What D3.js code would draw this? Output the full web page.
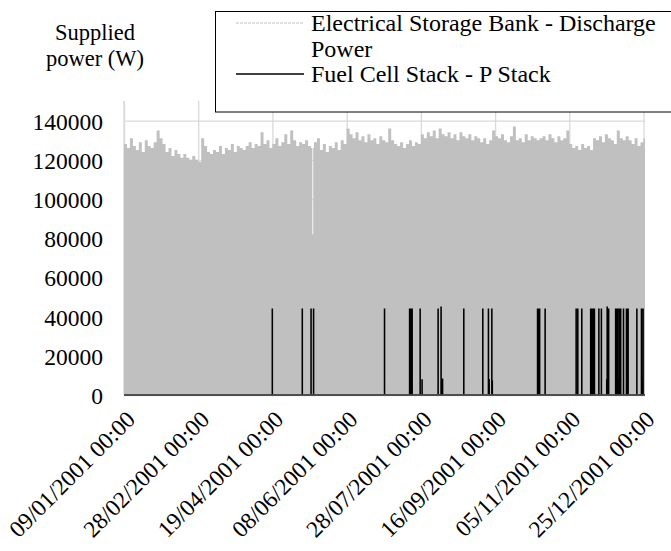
<!DOCTYPE html>
<html><head><meta charset="utf-8">
<script src="https://cdn.jsdelivr.net/npm/d3@7"></script>
<style>
body{margin:0;background:#fff;}
</style>
</head><body>
<svg id="chart" width="671" height="551"></svg>
<script>
// ---------- data ----------
const yTickValues = [0, 20000, 40000, 60000, 80000, 100000, 120000, 140000];
const xTickDates = ["2001-01-09", "2001-02-28", "2001-04-19", "2001-06-08", "2001-07-28", "2001-09-16", "2001-11-05", "2001-12-25"];
const xTickLabels = ["09/01/2001 00:00", "28/02/2001 00:00", "19/04/2001 00:00", "08/06/2001 00:00", "28/07/2001 00:00", "16/09/2001 00:00", "05/11/2001 00:00", "25/12/2001 00:00"];
const seriesNames = ["Electrical Storage Bank - Discharge Power", "Fuel Cell Stack - P Stack"];

// Electrical Storage Bank - Discharge Power: peak (kW) every 2 days from 09/01/2001
const storageStartDate = "2001-01-09";
const storageStepDays = 2;
const storagePeakKW = [
  128,126,131,127,125,129,124,130,127,126,
  129,135,131,128,124,126,122,125,123,121,
  123,121,120,122,120,119,131,127,124,123,
  125,124,127,123,126,125,128,124,127,126,
  125,127,129,126,128,127,134,128,130,126,
  128,131,127,129,133,128,135,130,127,129,
  128,130,127,126,129,131,125,128,124,127,
  126,129,125,130,128,136,133,131,134,130,
  132,129,133,130,131,128,132,130,129,136,
  130,128,127,129,126,128,130,127,129,128,
  133,131,134,132,135,131,136,133,132,134,
  131,133,130,134,132,131,133,130,132,131,
  129,131,128,130,135,132,131,133,130,129,
  132,137,130,131,129,133,130,132,131,130,
  131,132,130,133,131,129,132,130,131,135,
  128,126,127,125,128,126,127,125,131,130,
  132,129,133,131,130,128,135,131,130,132,
  130,128,131,127,129,131
];
const storageEndDate = "2001-12-26";
// short drop of discharge power: [day of year, kW]
const storageDips = [[134.9, 82]];

// Fuel Cell Stack - P Stack: hourly operation events [day of year (from 01/01), power W]
const stackEvents = [
  [107.9,43700],[128.1,43700],[134.0,43700],[135.7,43700],[183.5,43700],
  [200.4,43700],[201.3,43700],[202.1,43700],[207.5,43700],[208.8,7700],
  [219.6,43700],[221.6,44800],[222.6,8000],[236.9,43700],[249.7,43700],
  [253.5,43700],[254.0,7800],[255.8,43700],[256.1,7200],[286.6,43700],
  [287.3,43700],[288.0,43700],[291.7,43700],[312.6,43700],[313.7,43700],
  [316.4,43700],[322.4,43700],[323.1,43700],[323.7,43700],[324.3,43700],
  [324.9,43700],[327.9,43700],[329.6,43700],[333.2,7700],[333.5,44800],
  [334.5,43700],[339.2,43700],[339.8,43700],[340.5,43700],[341.1,7700],
  [341.6,43700],[342.2,43700],[342.6,43700],[344.5,43700],[346.5,43700],
  [347.0,43700],[347.6,43700],[353.5,43700],[356.6,43700],[357.2,7700],
  [357.7,43700]
];

// ---------- drawing ----------
const FONT = "'Liberation Serif', Tinos, 'Noto Serif', 'DejaVu Serif', serif";
const DAY = 864e5, HOUR = 36e5;
const yearStart = Date.UTC(2001,0,1);
const parse = s => new Date(s + "T00:00:00Z");
const svg = d3.select("#chart");

const plot = {left:124, right:645, top:101, bottom:395};
const x = d3.scaleUtc().domain([parse(storageStartDate), parse(storageEndDate)]).range([plot.left, plot.right]);
const y = d3.scaleLinear().domain([0,150000]).range([plot.bottom, plot.top]);

// gridlines
const gv = svg.append("g").attr("transform",`translate(0,${plot.bottom})`)
  .call(d3.axisBottom(x).tickValues(xTickDates.map(parse)).tickSize(-(plot.bottom-plot.top)).tickFormat(""));
gv.select(".domain").remove();
gv.selectAll("line").attr("stroke","#d9d9d9").attr("stroke-width",1.3);
const gh = svg.append("g").attr("transform",`translate(${plot.left},0)`)
  .call(d3.axisLeft(y).tickValues(yTickValues).tickSize(-(plot.right-plot.left)).tickFormat(""));
gh.select(".domain").remove();
gh.selectAll("line").attr("stroke","#d9d9d9").attr("stroke-width",1.3);
svg.append("line").attr("x1",plot.left).attr("x2",plot.left).attr("y1",plot.top).attr("y2",plot.bottom)
  .attr("stroke","#d9d9d9").attr("stroke-width",1.3);

// storage series (dense hourly line rendered as its envelope)
let pts = storagePeakKW.map((v,i)=>({t:new Date(parse(storageStartDate).getTime()+i*storageStepDays*DAY), v:v*1000}));
pts.push({t:parse(storageEndDate), v:storagePeakKW[storagePeakKW.length-1]*1000});
storageDips.forEach(([doy,kw])=>{
  const t = yearStart + doy*DAY;
  const enclosing = pts.filter(p=>p.t.getTime()<=t).pop();
  pts.push({t:new Date(t), v:kw*1000});
  pts.push({t:new Date(t+14*HOUR), v:enclosing.v});
});
pts.sort((a,b)=>a.t-b.t);
svg.append("path").datum(pts)
  .attr("fill","#c0c0c0")
  .attr("d", d3.area().curve(d3.curveStepAfter).x(d=>x(d.t)).y0(y(0)).y1(d=>y(d.v)));

// fuel cell stack series
const sp = [{t:parse(storageStartDate), v:0}];
stackEvents.forEach(([doy,w])=>{
  const t = yearStart + doy*DAY;
  sp.push({t:new Date(t),v:0},{t:new Date(t),v:w},{t:new Date(t+HOUR),v:w},{t:new Date(t+HOUR),v:0});
});
sp.push({t:parse(storageEndDate), v:0});
svg.append("path").datum(sp)
  .attr("fill","none").attr("stroke","#000").attr("stroke-width",1.5)
  .attr("d", d3.line().x(d=>x(d.t)).y(d=>y(d.v)));

// x axis line
svg.append("line").attr("x1",plot.left).attr("x2",plot.right).attr("y1",plot.bottom).attr("y2",plot.bottom)
  .attr("stroke","#595959").attr("stroke-width",1.5);

// y labels
const ya = svg.append("g").attr("transform",`translate(${plot.left},0)`)
  .call(d3.axisLeft(y).tickValues(yTickValues).tickSize(0).tickPadding(21).tickFormat(d=>String(d)));
ya.select(".domain").remove();
ya.attr("font-family",null).attr("font-size",null);
ya.selectAll("text").style("font-family",FONT).style("font-size","23.5px").attr("dy","0.36em");

// x labels
const xa = svg.append("g").attr("transform",`translate(0,${plot.bottom})`)
  .call(d3.axisBottom(x).tickValues(xTickDates.map(parse)).tickSize(0).tickFormat((d,i)=>xTickLabels[i]));
xa.select(".domain").remove();
xa.attr("font-family",null).attr("font-size",null);
xa.selectAll("text").style("font-family",FONT).style("font-size","23.5px")
  .attr("text-anchor","end").attr("y",0).attr("dy",0)
  .attr("transform","translate(12,26) rotate(-45)");

// y axis title
svg.append("text").attr("x",95).attr("y",40).attr("text-anchor","middle").style("font-family",FONT).style("font-size","22.5px").text("Supplied");
svg.append("text").attr("x",95).attr("y",66).attr("text-anchor","middle").style("font-family",FONT).style("font-size","22.5px").text("power (W)");

// legend
const lg = svg.append("g");
lg.append("rect").attr("x",215.5).attr("y",11.5).attr("width",470).attr("height",100.5)
  .attr("fill","#fff").attr("stroke","#000").attr("stroke-width",1);
lg.append("line").attr("x1",236).attr("x2",304).attr("y1",23).attr("y2",23)
  .attr("stroke","#c0c0c0").attr("stroke-width",1).attr("stroke-dasharray","3,1");
lg.append("text").attr("x",311).attr("y",31).style("font-family",FONT).style("font-size","24px").text("Electrical Storage Bank - Discharge");
lg.append("text").attr("x",311).attr("y",57).style("font-family",FONT).style("font-size","24px").text("Power");
lg.append("line").attr("x1",236).attr("x2",304).attr("y1",74).attr("y2",74)
  .attr("stroke","#000").attr("stroke-width",1.5);
lg.append("text").attr("x",311).attr("y",82).style("font-family",FONT).style("font-size","24px").text(seriesNames[1]);
</script>
</body></html>
